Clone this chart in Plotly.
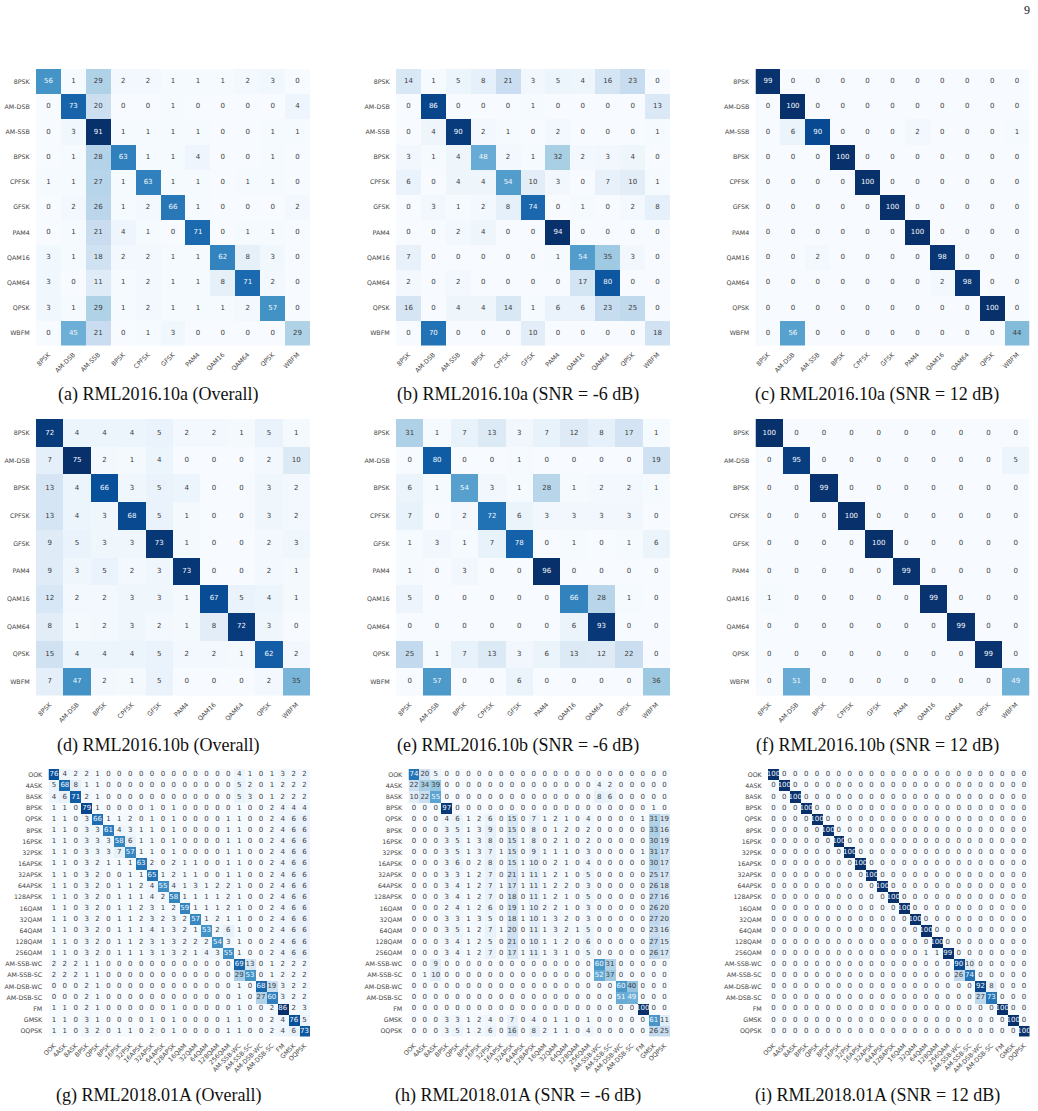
import plotly.graph_objects as go

# Class names of the three datasets
CLASSES_10A = ["8PSK", "AM-DSB", "AM-SSB", "BPSK", "CPFSK", "GFSK", "PAM4", "QAM16", "QAM64", "QPSK", "WBFM"]
CLASSES_10B = ["8PSK", "AM-DSB", "BPSK", "CPFSK", "GFSK", "PAM4", "QAM16", "QAM64", "QPSK", "WBFM"]
CLASSES_18 = ["OOK", "4ASK", "8ASK", "BPSK", "QPSK", "8PSK", "16PSK", "32PSK", "16APSK", "32APSK",
              "64APSK", "128APSK", "16QAM", "32QAM", "64QAM", "128QAM", "256QAM", "AM-SSB-WC",
              "AM-SSB-SC", "AM-DSB-WC", "AM-DSB-SC", "FM", "GMSK", "OQPSK"]

# Confusion matrices in percent
CM_A = [
    [56, 1, 29, 2, 2, 1, 1, 1, 2, 3, 0],
    [0, 73, 20, 0, 0, 1, 0, 0, 0, 0, 4],
    [0, 3, 91, 1, 1, 1, 1, 0, 0, 1, 1],
    [0, 1, 28, 63, 1, 1, 4, 0, 0, 1, 0],
    [1, 1, 27, 1, 63, 1, 1, 0, 1, 1, 0],
    [0, 2, 26, 1, 2, 66, 1, 0, 0, 0, 2],
    [0, 1, 21, 4, 1, 0, 71, 0, 1, 1, 0],
    [3, 1, 18, 2, 2, 1, 1, 62, 8, 3, 0],
    [3, 0, 11, 1, 2, 1, 1, 8, 71, 2, 0],
    [3, 1, 29, 1, 2, 1, 1, 1, 2, 57, 0],
    [0, 45, 21, 0, 1, 3, 0, 0, 0, 0, 29],
]
CM_B = [
    [14, 1, 5, 8, 21, 3, 5, 4, 16, 23, 0],
    [0, 86, 0, 0, 0, 1, 0, 0, 0, 0, 13],
    [0, 4, 90, 2, 1, 0, 2, 0, 0, 0, 1],
    [3, 1, 4, 48, 2, 1, 32, 2, 3, 4, 0],
    [6, 0, 4, 4, 54, 10, 3, 0, 7, 10, 1],
    [0, 3, 1, 2, 8, 74, 0, 1, 0, 2, 8],
    [0, 0, 2, 4, 0, 0, 94, 0, 0, 0, 0],
    [7, 0, 0, 0, 0, 0, 1, 54, 35, 3, 0],
    [2, 0, 2, 0, 0, 0, 0, 17, 80, 0, 0],
    [16, 0, 4, 4, 14, 1, 6, 6, 23, 25, 0],
    [0, 70, 0, 0, 0, 10, 0, 0, 0, 0, 18],
]
CM_C = [
    [99, 0, 0, 0, 0, 0, 0, 0, 0, 0, 0],
    [0, 100, 0, 0, 0, 0, 0, 0, 0, 0, 0],
    [0, 6, 90, 0, 0, 0, 2, 0, 0, 0, 1],
    [0, 0, 0, 100, 0, 0, 0, 0, 0, 0, 0],
    [0, 0, 0, 0, 100, 0, 0, 0, 0, 0, 0],
    [0, 0, 0, 0, 0, 100, 0, 0, 0, 0, 0],
    [0, 0, 0, 0, 0, 0, 100, 0, 0, 0, 0],
    [0, 0, 2, 0, 0, 0, 0, 98, 0, 0, 0],
    [0, 0, 0, 0, 0, 0, 0, 2, 98, 0, 0],
    [0, 0, 0, 0, 0, 0, 0, 0, 0, 100, 0],
    [0, 56, 0, 0, 0, 0, 0, 0, 0, 0, 44],
]
CM_D = [
    [72, 4, 4, 4, 5, 2, 2, 1, 5, 1],
    [7, 75, 2, 1, 4, 0, 0, 0, 2, 10],
    [13, 4, 66, 3, 5, 4, 0, 0, 3, 2],
    [13, 4, 3, 68, 5, 1, 0, 0, 3, 2],
    [9, 5, 3, 3, 73, 1, 0, 0, 2, 3],
    [9, 3, 5, 2, 3, 73, 0, 0, 2, 1],
    [12, 2, 2, 3, 3, 1, 67, 5, 4, 1],
    [8, 1, 2, 3, 2, 1, 8, 72, 3, 0],
    [15, 4, 4, 4, 5, 2, 2, 1, 62, 2],
    [7, 47, 2, 1, 5, 0, 0, 0, 2, 35],
]
CM_E = [
    [31, 1, 7, 13, 3, 7, 12, 8, 17, 1],
    [0, 80, 0, 0, 1, 0, 0, 0, 0, 19],
    [6, 1, 54, 3, 1, 28, 1, 2, 2, 1],
    [7, 0, 2, 72, 6, 3, 3, 3, 3, 0],
    [1, 3, 1, 7, 78, 0, 1, 0, 1, 6],
    [1, 0, 3, 0, 0, 96, 0, 0, 0, 0],
    [5, 0, 0, 0, 0, 0, 66, 28, 1, 0],
    [0, 0, 0, 0, 0, 0, 6, 93, 0, 0],
    [25, 1, 7, 13, 3, 6, 13, 12, 22, 0],
    [0, 57, 0, 0, 6, 0, 0, 0, 0, 36],
]
CM_F = [
    [100, 0, 0, 0, 0, 0, 0, 0, 0, 0],
    [0, 95, 0, 0, 0, 0, 0, 0, 0, 5],
    [0, 0, 99, 0, 0, 0, 0, 0, 0, 0],
    [0, 0, 0, 100, 0, 0, 0, 0, 0, 0],
    [0, 0, 0, 0, 100, 0, 0, 0, 0, 0],
    [0, 0, 0, 0, 0, 99, 0, 0, 0, 0],
    [1, 0, 0, 0, 0, 0, 99, 0, 0, 0],
    [0, 0, 0, 0, 0, 0, 0, 99, 0, 0],
    [0, 0, 0, 0, 0, 0, 0, 0, 99, 0],
    [0, 51, 0, 0, 0, 0, 0, 0, 0, 49],
]
CM_G = [
    [76, 4, 2, 2, 1, 0, 0, 0, 0, 0, 0, 0, 0, 0, 0, 0, 0, 4, 1, 0, 1, 3, 2, 2],
    [5, 68, 8, 1, 1, 0, 0, 0, 0, 0, 0, 0, 0, 0, 0, 0, 0, 5, 2, 0, 1, 2, 2, 2],
    [4, 6, 71, 2, 1, 0, 0, 0, 0, 0, 0, 0, 0, 0, 0, 0, 0, 5, 3, 0, 1, 2, 2, 2],
    [1, 1, 0, 79, 1, 0, 0, 0, 0, 1, 0, 1, 0, 0, 0, 0, 0, 1, 0, 0, 2, 4, 4, 4],
    [1, 1, 0, 3, 66, 1, 1, 2, 0, 1, 0, 1, 0, 0, 0, 0, 1, 1, 0, 0, 2, 4, 6, 6],
    [1, 1, 0, 3, 3, 61, 4, 3, 1, 1, 0, 1, 0, 0, 0, 0, 1, 1, 0, 0, 2, 4, 6, 6],
    [1, 1, 0, 3, 3, 3, 58, 6, 1, 1, 0, 1, 0, 0, 0, 0, 1, 1, 0, 0, 2, 4, 6, 6],
    [1, 1, 0, 3, 3, 3, 7, 57, 1, 1, 0, 1, 0, 0, 0, 0, 1, 1, 0, 0, 2, 4, 6, 6],
    [1, 1, 0, 3, 2, 1, 1, 1, 63, 2, 0, 2, 1, 1, 0, 0, 1, 1, 0, 0, 2, 4, 6, 6],
    [1, 1, 0, 3, 2, 0, 0, 1, 1, 65, 1, 2, 1, 1, 0, 0, 1, 1, 0, 0, 2, 4, 6, 6],
    [1, 1, 0, 3, 2, 0, 1, 1, 2, 4, 55, 4, 1, 3, 1, 2, 2, 1, 0, 0, 2, 4, 6, 6],
    [1, 1, 0, 3, 2, 0, 1, 1, 1, 4, 2, 58, 1, 1, 1, 1, 2, 1, 0, 0, 2, 4, 6, 6],
    [1, 1, 0, 3, 2, 0, 1, 1, 2, 3, 1, 2, 59, 1, 1, 1, 2, 1, 0, 0, 2, 4, 6, 6],
    [1, 1, 0, 3, 2, 0, 1, 1, 2, 3, 2, 3, 2, 57, 1, 2, 1, 1, 0, 0, 2, 4, 6, 6],
    [1, 1, 0, 3, 2, 0, 1, 1, 1, 4, 1, 3, 2, 1, 53, 2, 6, 1, 0, 0, 2, 4, 6, 6],
    [1, 1, 0, 3, 2, 0, 1, 1, 2, 3, 1, 3, 2, 2, 2, 54, 3, 1, 0, 0, 2, 4, 6, 6],
    [1, 1, 0, 3, 2, 0, 1, 1, 1, 3, 1, 3, 2, 1, 4, 3, 55, 1, 0, 0, 2, 4, 6, 6],
    [2, 2, 2, 1, 1, 0, 0, 0, 0, 0, 0, 0, 0, 0, 0, 0, 0, 69, 13, 0, 1, 2, 2, 2],
    [2, 2, 2, 1, 1, 0, 0, 0, 0, 0, 0, 0, 0, 0, 0, 0, 0, 29, 53, 0, 1, 2, 2, 2],
    [0, 0, 0, 2, 1, 0, 0, 0, 0, 0, 0, 0, 0, 0, 0, 0, 0, 1, 0, 68, 19, 3, 2, 2],
    [0, 0, 0, 2, 1, 0, 0, 0, 0, 0, 0, 0, 0, 0, 0, 0, 0, 1, 0, 27, 60, 3, 2, 2],
    [1, 1, 0, 2, 1, 0, 0, 0, 0, 0, 0, 1, 0, 0, 0, 0, 0, 1, 0, 0, 2, 86, 2, 3],
    [1, 1, 0, 3, 1, 0, 0, 0, 0, 1, 0, 1, 0, 0, 0, 0, 1, 1, 0, 0, 2, 4, 76, 5],
    [1, 1, 0, 3, 2, 0, 1, 1, 0, 2, 0, 1, 0, 0, 0, 0, 1, 1, 0, 0, 2, 4, 6, 73],
]
CM_H = [
    [74, 20, 5, 0, 0, 0, 0, 0, 0, 0, 0, 0, 0, 0, 0, 0, 0, 0, 0, 0, 0, 0, 0, 0],
    [22, 34, 39, 0, 0, 0, 0, 0, 0, 0, 0, 0, 0, 0, 0, 0, 0, 4, 2, 0, 0, 0, 0, 0],
    [10, 22, 55, 0, 0, 0, 0, 0, 0, 0, 0, 0, 0, 0, 0, 0, 0, 8, 6, 0, 0, 0, 0, 0],
    [0, 0, 0, 97, 0, 0, 0, 0, 0, 0, 0, 0, 0, 0, 0, 0, 0, 0, 0, 0, 0, 0, 1, 0],
    [0, 0, 0, 4, 6, 1, 2, 6, 0, 15, 0, 7, 1, 2, 1, 0, 4, 0, 0, 0, 0, 1, 31, 19],
    [0, 0, 0, 3, 5, 1, 3, 9, 0, 15, 0, 8, 0, 1, 2, 0, 2, 0, 0, 0, 0, 0, 33, 16],
    [0, 0, 0, 3, 5, 1, 3, 8, 0, 15, 1, 8, 0, 2, 1, 0, 2, 0, 0, 0, 0, 0, 30, 19],
    [0, 0, 0, 3, 5, 1, 3, 7, 1, 15, 0, 9, 1, 1, 1, 0, 3, 0, 0, 0, 0, 1, 31, 17],
    [0, 0, 0, 3, 6, 0, 2, 8, 0, 15, 1, 10, 0, 2, 1, 0, 4, 0, 0, 0, 0, 0, 30, 17],
    [0, 0, 0, 3, 3, 1, 2, 7, 0, 21, 1, 11, 1, 2, 1, 0, 5, 0, 0, 0, 0, 0, 25, 17],
    [0, 0, 0, 3, 4, 1, 2, 7, 1, 17, 1, 11, 1, 2, 2, 0, 3, 0, 0, 0, 0, 0, 26, 18],
    [0, 0, 0, 3, 4, 1, 2, 7, 0, 18, 0, 11, 1, 2, 1, 0, 5, 0, 0, 0, 0, 0, 27, 16],
    [0, 0, 0, 2, 4, 1, 2, 6, 0, 19, 1, 10, 2, 2, 1, 0, 3, 0, 0, 0, 0, 0, 26, 20],
    [0, 0, 0, 3, 3, 1, 3, 5, 0, 18, 1, 10, 1, 3, 2, 0, 3, 0, 0, 0, 0, 0, 27, 20],
    [0, 0, 0, 3, 5, 1, 2, 7, 1, 20, 0, 11, 1, 3, 2, 1, 5, 0, 0, 0, 0, 0, 23, 16],
    [0, 0, 0, 3, 4, 1, 2, 5, 0, 21, 0, 10, 1, 1, 2, 0, 6, 0, 0, 0, 0, 0, 27, 15],
    [0, 0, 0, 3, 4, 1, 2, 7, 0, 17, 1, 11, 1, 3, 1, 0, 5, 0, 0, 0, 0, 0, 26, 17],
    [0, 0, 9, 0, 0, 0, 0, 0, 0, 0, 0, 0, 0, 0, 0, 0, 0, 60, 31, 0, 0, 0, 0, 0],
    [0, 1, 10, 0, 0, 0, 0, 0, 0, 0, 0, 0, 0, 0, 0, 0, 0, 52, 37, 0, 0, 0, 0, 0],
    [0, 0, 0, 0, 0, 0, 0, 0, 0, 0, 0, 0, 0, 0, 0, 0, 0, 0, 0, 60, 40, 0, 0, 0],
    [0, 0, 0, 0, 0, 0, 0, 0, 0, 0, 0, 0, 0, 0, 0, 0, 0, 0, 0, 51, 49, 0, 0, 0],
    [0, 0, 0, 0, 0, 0, 0, 0, 0, 0, 0, 0, 0, 0, 0, 0, 0, 0, 0, 0, 0, 100, 0, 0],
    [0, 0, 0, 3, 3, 1, 2, 4, 0, 7, 0, 4, 0, 1, 1, 0, 1, 0, 0, 0, 0, 0, 61, 11],
    [0, 0, 0, 3, 5, 1, 2, 6, 0, 16, 0, 8, 2, 1, 1, 0, 4, 0, 0, 0, 0, 0, 26, 25],
]
CM_I = [
    [100, 0, 0, 0, 0, 0, 0, 0, 0, 0, 0, 0, 0, 0, 0, 0, 0, 0, 0, 0, 0, 0, 0, 0],
    [0, 100, 0, 0, 0, 0, 0, 0, 0, 0, 0, 0, 0, 0, 0, 0, 0, 0, 0, 0, 0, 0, 0, 0],
    [0, 0, 100, 0, 0, 0, 0, 0, 0, 0, 0, 0, 0, 0, 0, 0, 0, 0, 0, 0, 0, 0, 0, 0],
    [0, 0, 0, 100, 0, 0, 0, 0, 0, 0, 0, 0, 0, 0, 0, 0, 0, 0, 0, 0, 0, 0, 0, 0],
    [0, 0, 0, 0, 100, 0, 0, 0, 0, 0, 0, 0, 0, 0, 0, 0, 0, 0, 0, 0, 0, 0, 0, 0],
    [0, 0, 0, 0, 0, 100, 0, 0, 0, 0, 0, 0, 0, 0, 0, 0, 0, 0, 0, 0, 0, 0, 0, 0],
    [0, 0, 0, 0, 0, 0, 100, 0, 0, 0, 0, 0, 0, 0, 0, 0, 0, 0, 0, 0, 0, 0, 0, 0],
    [0, 0, 0, 0, 0, 0, 0, 100, 0, 0, 0, 0, 0, 0, 0, 0, 0, 0, 0, 0, 0, 0, 0, 0],
    [0, 0, 0, 0, 0, 0, 0, 0, 100, 0, 0, 0, 0, 0, 0, 0, 0, 0, 0, 0, 0, 0, 0, 0],
    [0, 0, 0, 0, 0, 0, 0, 0, 0, 100, 0, 0, 0, 0, 0, 0, 0, 0, 0, 0, 0, 0, 0, 0],
    [0, 0, 0, 0, 0, 0, 0, 0, 0, 0, 100, 0, 0, 0, 0, 0, 0, 0, 0, 0, 0, 0, 0, 0],
    [0, 0, 0, 0, 0, 0, 0, 0, 0, 0, 0, 100, 0, 0, 0, 0, 0, 0, 0, 0, 0, 0, 0, 0],
    [0, 0, 0, 0, 0, 0, 0, 0, 0, 0, 0, 0, 100, 0, 0, 0, 0, 0, 0, 0, 0, 0, 0, 0],
    [0, 0, 0, 0, 0, 0, 0, 0, 0, 0, 0, 0, 0, 100, 0, 0, 0, 0, 0, 0, 0, 0, 0, 0],
    [0, 0, 0, 0, 0, 0, 0, 0, 0, 0, 0, 0, 0, 0, 100, 0, 0, 0, 0, 0, 0, 0, 0, 0],
    [0, 0, 0, 0, 0, 0, 0, 0, 0, 0, 0, 0, 0, 0, 0, 100, 0, 0, 0, 0, 0, 0, 0, 0],
    [0, 0, 0, 0, 0, 0, 0, 0, 0, 0, 0, 0, 0, 0, 1, 1, 99, 0, 0, 0, 0, 0, 0, 0],
    [0, 0, 0, 0, 0, 0, 0, 0, 0, 0, 0, 0, 0, 0, 0, 0, 0, 90, 10, 0, 0, 0, 0, 0],
    [0, 0, 0, 0, 0, 0, 0, 0, 0, 0, 0, 0, 0, 0, 0, 0, 0, 26, 74, 0, 0, 0, 0, 0],
    [0, 0, 0, 0, 0, 0, 0, 0, 0, 0, 0, 0, 0, 0, 0, 0, 0, 0, 0, 92, 8, 0, 0, 0],
    [0, 0, 0, 0, 0, 0, 0, 0, 0, 0, 0, 0, 0, 0, 0, 0, 0, 0, 0, 27, 73, 0, 0, 0],
    [0, 0, 0, 0, 0, 0, 0, 0, 0, 0, 0, 0, 0, 0, 0, 0, 0, 0, 0, 0, 0, 100, 0, 0],
    [0, 0, 0, 0, 0, 0, 0, 0, 0, 0, 0, 0, 0, 0, 0, 0, 0, 0, 0, 0, 0, 0, 100, 0],
    [0, 0, 0, 0, 0, 0, 0, 0, 0, 0, 0, 0, 0, 0, 0, 0, 0, 0, 0, 0, 0, 0, 0, 100],
]

CAPTIONS = [
    "(a) RML2016.10a (Overall)", "(b) RML2016.10a (SNR = -6 dB)", "(c) RML2016.10a (SNR = 12 dB)",
    "(d) RML2016.10b (Overall)", "(e) RML2016.10b (SNR = -6 dB)", "(f) RML2016.10b (SNR = 12 dB)",
    "(g) RML2018.01A (Overall)", "(h) RML2018.01A (SNR = -6 dB)", "(i) RML2018.01A (SNR = 12 dB)",
]

W, H = 1038, 1111

# Pixel boxes of the heatmaps: left, right, top, bottom
BOXES = [
    (36, 310, 69, 345.5), (396, 670, 69, 345.5), (755.5, 1029.5, 69, 345.5),
    (36, 310, 419, 695.5), (396, 670, 419, 695.5), (755.5, 1029.5, 419, 695.5),
    (48.5, 310, 769, 1036.5), (408.5, 670, 769, 1036.5), (768, 1029.5, 769, 1036.5),
]
CAPTION_X = [158, 517.5, 877, 158, 517.5, 877, 158, 517.5, 877]
CAPTION_Y = [395, 395, 395, 745, 745, 745, 1095, 1095, 1095]

MATRICES = [CM_A, CM_B, CM_C, CM_D, CM_E, CM_F, CM_G, CM_H, CM_I]
LABELS = [CLASSES_10A] * 3 + [CLASSES_10B] * 3 + [CLASSES_18] * 3

BLUES = ["#f7fbff", "#deebf7", "#c6dbef", "#9ecae1", "#6baed6", "#4292c6", "#2171b5", "#08519c", "#08306b"]
COLORSCALE = [[i / 8, c] for i, c in enumerate(BLUES)]

TICK_SIZE = 6.3
CELL_SIZE = 7
DARK_TEXT = "#3d3d3d"
HIDDEN = "rgba(0,0,0,0)"


def blues_rgb(t):
    """Linear lookup in the Blues ramp for t in 0..1."""
    pos = min(max(t, 0), 1) * 8
    i = min(int(pos), 7)
    f = pos - i
    a, b = BLUES[i], BLUES[i + 1]
    return [(int(a[k:k + 2], 16) * (1 - f) + int(b[k:k + 2], 16) * f) / 255 for k in (1, 3, 5)]


def cell_text_color(value, vmax):
    """White on dark cells and dark grey on light ones, decided by relative luminance."""
    chan = [c / 12.92 if c <= 0.03928 else ((c + 0.055) / 1.055) ** 2.4 for c in blues_rgb(value / vmax)]
    lum = 0.2126 * chan[0] + 0.7152 * chan[1] + 0.0722 * chan[2]
    return "#f4f8fc" if lum < 0.408 else DARK_TEXT


fig = go.Figure()
layout = {}
annotations = []

for idx, (cm, labels, box) in enumerate(zip(MATRICES, LABELS, BOXES)):
    n = len(labels)
    left, right, top, bottom = box
    suffix = "" if idx == 0 else str(idx + 1)
    xref, yref = f"x{suffix}", f"y{suffix}"
    vmax = max(max(r) for r in cm)
    vmin = min(min(r) for r in cm)
    ticks = list(range(n))

    fig.add_trace(go.Heatmap(
        z=cm, x=ticks, y=ticks, xaxis=xref, yaxis=yref,
        colorscale=COLORSCALE, zmin=vmin, zmax=vmax, showscale=False,
        hovertemplate="%{z}<extra></extra>",
    ))

    xs, ys, texts, colors = [], [], [], []
    for r, row in enumerate(cm):
        for c, v in enumerate(row):
            xs.append(c)
            ys.append(r)
            texts.append(str(v))
            colors.append(cell_text_color(v, vmax))
    fig.add_trace(go.Scatter(
        x=xs, y=ys, xaxis=xref, yaxis=yref, mode="text", text=texts,
        textposition="middle center", hoverinfo="skip", showlegend=False,
        textfont=dict(family="DejaVu Sans", size=CELL_SIZE, color=colors),
    ))

    layout[f"xaxis{suffix}"] = dict(
        domain=[left / W, right / W], anchor=yref, range=[-0.5, n - 0.5],
        tickmode="array", tickvals=ticks, ticktext=labels, tickangle=-45,
        ticks="outside", ticklen=2, tickcolor=HIDDEN,
        showgrid=False, zeroline=False, showline=False, automargin=False,
        tickfont=dict(family="DejaVu Sans", size=TICK_SIZE, color="#444444"),
    )
    layout[f"yaxis{suffix}"] = dict(
        domain=[1 - bottom / H, 1 - top / H], anchor=xref, range=[n - 0.5, -0.5],
        tickmode="array", tickvals=ticks, ticktext=labels,
        ticks="outside", ticklen=4, tickcolor=HIDDEN,
        showgrid=False, zeroline=False, showline=False, automargin=False,
        tickfont=dict(family="DejaVu Sans", size=TICK_SIZE, color="#444444"),
    )
    annotations.append(dict(
        x=CAPTION_X[idx] / W, y=1 - CAPTION_Y[idx] / H, xref="paper", yref="paper",
        text=CAPTIONS[idx], showarrow=False, xanchor="center", yanchor="middle",
        font=dict(family="Liberation Serif", size=18, color="#111111"),
    ))

# Page number in the top corner
annotations.append(dict(
    x=1027 / W, y=1 - 10 / H, xref="paper", yref="paper", text="9", showarrow=False,
    xanchor="center", yanchor="middle",
    font=dict(family="Liberation Serif", size=12, color="#111111"),
))

fig.update_layout(
    width=W, height=H, autosize=False,
    margin=dict(l=0, r=0, t=0, b=0),
    paper_bgcolor="white", plot_bgcolor="white",
    showlegend=False, annotations=annotations, **layout,
)

fig.write_html("out.html")
